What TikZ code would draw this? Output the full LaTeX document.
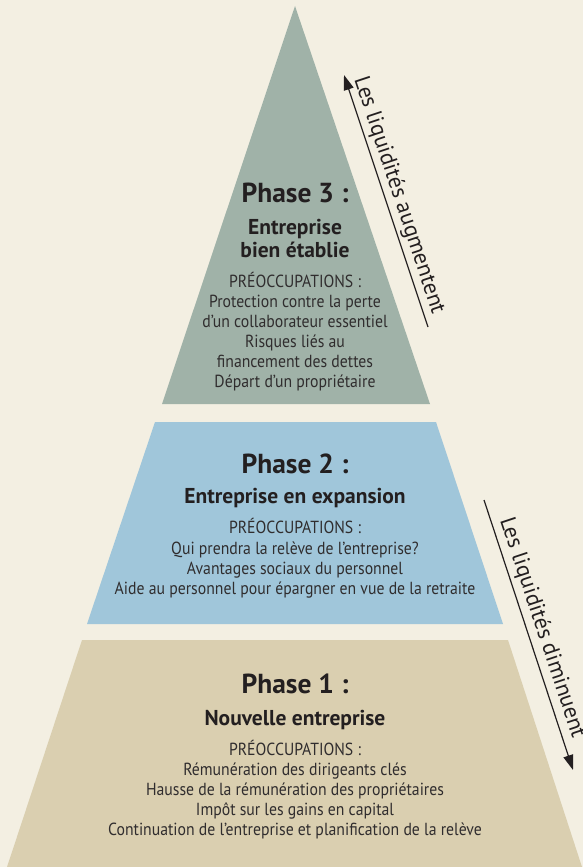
\documentclass[tikz,border=0pt]{standalone}
\usepackage{fontspec}
\setmainfont{PT Sans}[FakeStretch=0.9]
\newfontfamily\headfont{PT Sans Bold}
\newfontfamily\arrowfont{PT Sans}
\usetikzlibrary{arrows.meta}
\definecolor{bg}{RGB}{243,239,226}
\definecolor{phthree}{RGB}{160,178,168}
\definecolor{phtwo}{RGB}{160,198,218}
\definecolor{phone}{RGB}{218,207,176}
\definecolor{ink}{RGB}{35,31,32}
\definecolor{bodyink}{RGB}{48,45,46}
\tikzset{
  head/.style={anchor=base, text=ink, font=\headfont\fontsize{27.5}{30}\selectfont, inner sep=0pt},
  sub/.style={anchor=base, text=ink, font=\headfont\fontsize{21.5}{23}\selectfont, inner sep=0pt},
  body/.style={anchor=base, text=bodyink, font=\fontsize{17.5}{20}\selectfont, inner sep=0pt},
  side/.style={anchor=base west, text=ink, font=\arrowfont\fontsize{22.5}{24}\selectfont, inner sep=0pt, rotate=-71.6},
  liq/.style={draw=ink, line width=1.2pt, -{Triangle[length=15pt,width=10pt]}}
}
\begin{document}
\begin{tikzpicture}[x=1pt,y=-1pt]
\useasboundingbox (0,0) rectangle (583,867);
\fill[bg] (0,0) rectangle (583,867);
% shapes
\fill[phthree] (295,6) -- (430,404) -- (162,404) -- cycle;
\fill[phtwo] (155,422) -- (436,422) -- (503,624) -- (87,624) -- cycle;
\fill[phone] (82,640) -- (508,640) -- (582,867) -- (7,867) -- cycle;
% phase 3
\node[head] (h3) at (295,202) {Phase 3 :};
\node[sub] (s3a) at (295,234) {Entreprise};
\node[sub] (s3b) at (295,257) {bien établie};
\foreach \t/\y [count=\i] in {{PRÉOCCUPATIONS :}/287, {Protection contre la perte}/307, {d’un collaborateur essentiel}/327, {Risques liés au}/347, {financement des dettes}/367, {Départ d’un propriétaire}/387}
  \node[body] (b3l\i) at (295,\y) {\t};
% phase 2
\node[head] (h2) at (295,473) {Phase 2 :};
\node[sub] (s2) at (295,503) {Entreprise en expansion};
\foreach \t/\y [count=\i] in {{PRÉOCCUPATIONS :}/533, {Qui prendra la relève de l’entreprise?}/554, {Avantages sociaux du personnel}/574, {Aide au personnel pour épargner en vue de la retraite}/594}
  \node[body] (b2l\i) at (295,\y) {\t};
% phase 1
\node[head] (h1) at (295,693) {Phase 1 :};
\node[sub] (s1) at (295,725) {Nouvelle entreprise};
\foreach \t/\y [count=\i] in {{PRÉOCCUPATIONS :}/755, {Rémunération des dirigeants clés}/775, {Hausse de la rémunération des propriétaires}/795, {Impôt sur les gains en capital}/815, {Continuation de l’entreprise et planification de la relève}/835}
  \node[body] (b1l\i) at (295,\y) {\t};
% arrows
\coordinate (upTail) at (428,327);
\coordinate (upTip) at (344,75);
\draw[liq] (upTail) -- (upTip);
\node[side] (upText) at (354.1,79.1) {Les liquidités augmentent};
\coordinate (dnTail) at (484,500);
\coordinate (dnTip) at (573,770);
\draw[liq] (dnTail) -- (dnTip);
\node[side] (dnText) at (499.9,520.0) {Les liquidités diminuent};
\end{tikzpicture}
\end{document}
